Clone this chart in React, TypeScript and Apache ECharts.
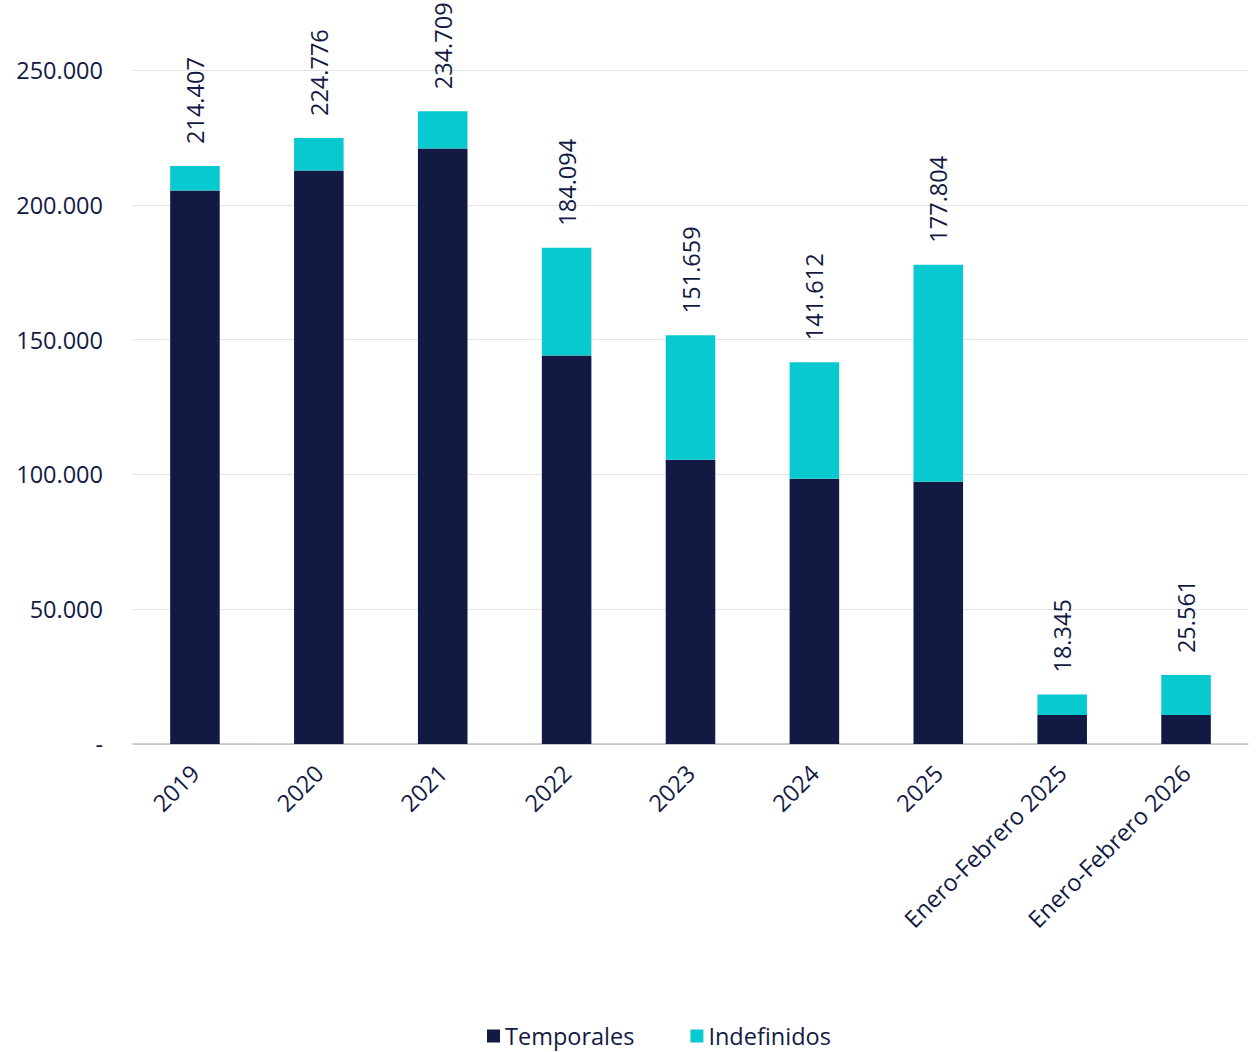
import React, { useEffect, useRef } from "react";
import * as echarts from "echarts";

const categories = [
  "2019",
  "2020",
  "2021",
  "2022",
  "2023",
  "2024",
  "2025",
  "Enero-Febrero 2025",
  "Enero-Febrero 2026",
];
const temporales = [205265, 212680, 220838, 144086, 105413, 98368, 97256, 10753, 10750];
const indefinidos = [9142, 12096, 13871, 40008, 46246, 43244, 80548, 7592, 14811];
const yTicks = [0, 50000, 100000, 150000, 200000, 250000];

const NAVY = "#121a44";
const TEAL = "#08c8d0";
const FONT = "'Open Sans', 'Noto Sans', sans-serif";
const FS = 23.5;

function fmt(v: number): string {
  if (v === 0) return "-";
  return String(Math.round(v)).replace(/\B(?=(\d{3})+(?!\d))/g, ".");
}

export default function App() {
  const ref = useRef<HTMLDivElement>(null);
  useEffect(() => {
    if (!ref.current) return;
    const chart = echarts.init(ref.current, null, { renderer: "svg" });
    const totals = temporales.map((t, i) => t + indefinidos[i]);
    chart.setOption({
      animation: false,
      textStyle: { fontFamily: FONT },
      grid: { left: 133, right: 10, top: 70, bottom: 308, containLabel: false },
      legend: {
        top: 1019,
        left: 482,
        itemWidth: 13,
        itemHeight: 13,
        itemGap: 56,
        icon: "rect",
        textStyle: { fontSize: FS, color: NAVY, fontFamily: FONT },
        data: ["Temporales", "Indefinidos"],
      },
      xAxis: {
        type: "category",
        data: categories,
        axisLine: { lineStyle: { color: "#bfbfbf", width: 1.5 } },
        axisTick: { show: false },
        axisLabel: {
          rotate: 45,
          interval: 0,
          fontSize: FS,
          color: NAVY,
          margin: 25,
          fontFamily: FONT,
        },
      },
      yAxis: {
        type: "value",
        min: yTicks[0],
        max: yTicks[yTicks.length - 1],
        interval: 50000,
        axisLine: { show: false },
        axisTick: { show: false },
        splitLine: { lineStyle: { color: "#e4e4e4", width: 1 } },
        axisLabel: {
          fontSize: FS,
          color: NAVY,
          margin: 30,
          fontFamily: FONT,
          formatter: (v: number) => fmt(v),
        },
      },
      series: [
        {
          name: "Temporales",
          type: "bar",
          stack: "total",
          barWidth: "40%",
          itemStyle: { color: NAVY },
          data: temporales,
        },
        {
          name: "Indefinidos",
          type: "bar",
          stack: "total",
          barWidth: "40%",
          itemStyle: { color: TEAL },
          data: indefinidos,
          label: {
            show: true,
            position: "top",
            rotate: 90,
            align: "left",
            verticalAlign: "middle",
            distance: 22,
            fontSize: FS,
            color: NAVY,
            fontFamily: FONT,
            formatter: (p: any) => fmt(totals[p.dataIndex]),
          },
        },
      ],
    });
    return () => chart.dispose();
  }, []);
  return (
    <div
      ref={ref}
      style={{ position: "fixed", left: 0, top: 0, width: 1258, height: 1052, background: "#fff" }}
    />
  );
}
